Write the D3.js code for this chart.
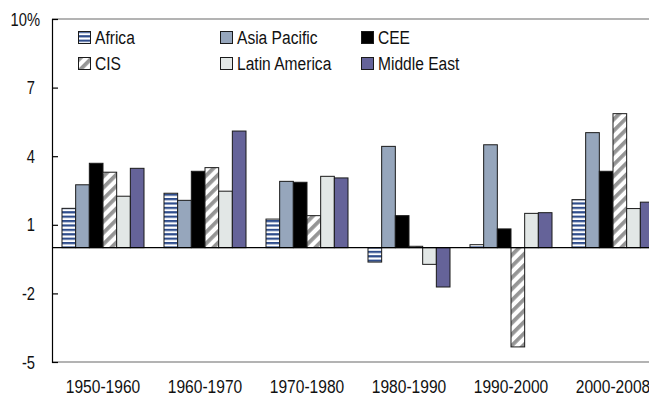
<!DOCTYPE html>
<html>
<head>
<meta charset="utf-8">
<script src="https://cdn.jsdelivr.net/npm/d3@7"></script>
<style>
  body { margin: 0; background: #fff; }
  text { font-family: "Liberation Sans", Arial, sans-serif; fill: #111; }
</style>
</head>
<body>
<svg id="chart" width="649" height="400"></svg>
<script>
// data (annual growth, %)
var periods = ["1950-1960", "1960-1970", "1970-1980", "1980-1990", "1990-2000", "2000-2008"];
var regions = ["Africa", "Asia Pacific", "CEE", "CIS", "Latin America", "Middle East"];
var africa       = [1.72, 2.38, 1.25, -0.63, 0.13, 2.10];
var asiaPacific  = [2.75, 2.07, 2.90, 4.43, 4.50, 5.03];
var cee          = [3.69, 3.34, 2.86, 1.40, 0.82, 3.34];
var cis          = [3.30, 3.50, 1.40, 0.06, -4.34, 5.86];
var latinAmerica = [2.25, 2.47, 3.12, -0.73, 1.50, 1.71];
var middleEast   = [3.47, 5.10, 3.05, -1.72, 1.53, 1.99];
var yTicks = [-5, -2, 1, 4, 7, 10];

var series = [africa, asiaPacific, cee, cis, latinAmerica, middleEast];
var fills = ["url(#stripesH)", "#96a6bc", "#000000", "url(#stripesD)", "#e2e7e6", "#656399"];

var svg = d3.select("#chart");
var plotLeft = 52, plotTop = 19, plotBottom = 362;
var narrow = 0.82; // squeeze text to look like a narrow face

// draw a condensed text at (px, py)
function narrowText(sel, px, py, anchor, size, str) {
    return sel.append("text")
        .attr("transform", "translate(" + px + "," + py + ") scale(" + narrow + ",1)")
        .attr("text-anchor", anchor)
        .style("font-size", size + "px")
        .text(str);
}

// patterns for Africa and CIS
var defs = svg.append("defs");
var ph = defs.append("pattern")
    .attr("id", "stripesH")
    .attr("patternUnits", "userSpaceOnUse")
    .attr("width", 8).attr("height", 4.4);
ph.append("rect").attr("width", 8).attr("height", 4.4).attr("fill", "#fff");
ph.append("rect").attr("width", 8).attr("height", 2.2).attr("fill", "#2f4d8c");

var pd = defs.append("pattern")
    .attr("id", "stripesD")
    .attr("patternUnits", "userSpaceOnUse")
    .attr("width", 8).attr("height", 8)
    .attr("patternTransform", "rotate(45)");
pd.append("rect").attr("width", 8).attr("height", 8).attr("fill", "#fff");
pd.append("rect").attr("width", 3.8).attr("height", 8).attr("fill", "#959595");

var x = d3.scaleBand()
    .domain(periods)
    .range([plotLeft, plotLeft + 612])
    .paddingInner(0.196)
    .paddingOuter(0.098);

var xInner = d3.scaleBand()
    .domain(regions)
    .range([0, x.bandwidth()]);

var y = d3.scaleLinear()
    .domain([-5, 10])
    .range([plotBottom, plotTop]);

// frame lines
svg.append("line")
    .attr("x1", plotLeft).attr("x2", 649)
    .attr("y1", plotTop).attr("y2", plotTop)
    .attr("stroke", "#9a9a9a").attr("stroke-width", 1.6);
svg.append("line")
    .attr("x1", plotLeft).attr("x2", 649)
    .attr("y1", plotBottom).attr("y2", plotBottom)
    .attr("stroke", "#9a9a9a").attr("stroke-width", 1.6);

// bars
var groups = svg.append("g").selectAll("g")
    .data(periods)
    .enter()
    .append("g")
    .attr("transform", function(d) { return "translate(" + x(d) + ",0)"; });

groups.selectAll("rect")
    .data(function(d, i) {
        return regions.map(function(r, j) { return { region: r, value: series[j][i], k: j }; });
    })
    .enter()
    .append("rect")
    .attr("x", function(d) { return xInner(d.region); })
    .attr("y", function(d) { return y(Math.max(0, d.value)); })
    .attr("width", xInner.bandwidth())
    .attr("height", function(d) { return Math.abs(y(d.value) - y(0)); })
    .attr("fill", function(d) { return fills[d.k]; })
    .attr("stroke", "#1a1a1a")
    .attr("stroke-width", 1);

// zero line
svg.append("line")
    .attr("x1", plotLeft).attr("x2", 649)
    .attr("y1", y(0)).attr("y2", y(0))
    .attr("stroke", "#000").attr("stroke-width", 1.2);

// y axis with inner ticks
var yAxis = svg.append("g")
    .attr("transform", "translate(" + plotLeft + ",0)")
    .call(d3.axisRight(y).tickValues(yTicks).tickSize(6).tickFormat(""));
yAxis.select(".domain").attr("stroke", "#000").attr("stroke-width", 1.2);
yAxis.selectAll(".tick line").attr("stroke", "#000").attr("stroke-width", 1.2);

var yLabels = svg.append("g");
yTicks.forEach(function(t) {
    narrowText(yLabels, t === 10 ? 40 : 35, y(t) + 6.5, "end", 18, t === 10 ? "10%" : String(t));
});

// x labels
var xLabels = svg.append("g");
periods.forEach(function(p) {
    narrowText(xLabels, x(p) + x.bandwidth() / 2, 393, "middle", 19, p);
});

// legend, 3 columns x 2 rows
var legX = [78, 220, 361], legY = [31, 57];
var legend = svg.append("g");
regions.forEach(function(r, i) {
    var col = i % 3, row = i < 3 ? 0 : 1;
    legend.append("rect")
        .attr("x", legX[col] + 0.5).attr("y", legY[row] + 0.5)
        .attr("width", 12).attr("height", 12)
        .attr("fill", fills[i])
        .attr("stroke", "#1a1a1a").attr("stroke-width", 1);
    narrowText(legend, legX[col] + 17, legY[row] + 13, "start", 19, r);
});
</script>
</body>
</html>
